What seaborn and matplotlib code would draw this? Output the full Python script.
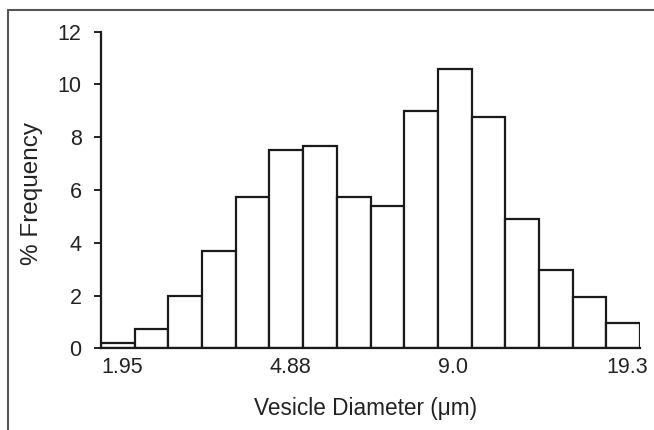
import numpy as np
import pandas as pd
import matplotlib
matplotlib.use("Agg")
import matplotlib.pyplot as plt
from matplotlib.lines import Line2D
import seaborn as sns

# Data: % frequency for each of 16 diameter classes
freq = [0.2, 0.75, 2.0, 3.7, 5.75, 7.5, 7.65, 5.75, 5.4, 9.0, 10.6, 8.75, 4.9, 2.95, 1.95, 0.95]
tick_labels = ["1.95", "4.88", "9.0", "19.3"]
tick_bins = [0, 5, 10, 15]  # class boundaries where labels sit

sns.set_theme(style="white")
plt.rcParams["font.family"] = ["Liberation Sans", "DejaVu Sans"]

n = len(freq)
edges = list(range(n + 1))
df = pd.DataFrame({"cls": np.arange(n) + 0.5, "pct": freq})

fig = plt.figure(figsize=(6.54, 4.30), dpi=100)
ax = fig.add_axes([101 / 654, 1 - 348.3 / 430, 539 / 654, 316.6 / 430])

sns.histplot(data=df, x="cls", weights="pct", bins=edges, stat="count",
             color="white", edgecolor="#1a1a1a", linewidth=1.6, alpha=1,
             ax=ax)

ax.set_xlim(0, n)
ax.set_ylim(0, 12)
ax.set_yticks(np.arange(0, 13, 2))
ax.set_xticks(tick_bins)
ax.set_xticklabels(tick_labels, ha="left")
ax.tick_params(axis="x", length=0, pad=6, labelsize=15.5, colors="#222222")
ax.tick_params(axis="y", length=5, width=1.4, direction="out", pad=9,
               labelsize=15.5, colors="#222222", left=True)

for s in ["top", "right"]:
    ax.spines[s].set_visible(False)
for s in ["left", "bottom"]:
    ax.spines[s].set_color("#1a1a1a")
    ax.spines[s].set_linewidth(1.6)

ax.set_xlabel("Vesicle Diameter (μm)", fontsize=16.3, color="#222222")
ax.set_ylabel("% Frequency", fontsize=17.5, color="#222222")
ax.xaxis.set_label_coords(0.4917, -0.154)
ax.yaxis.set_label_coords(-0.108, 0.49)

# scanned frame (left and top borders)
fig.add_artist(Line2D([8 / 654, 8 / 654], [0, 1 - 10 / 430],
                      transform=fig.transFigure, color="#555555", lw=1.5))
fig.add_artist(Line2D([8 / 654, 1], [1 - 10 / 430, 1 - 10 / 430],
                      transform=fig.transFigure, color="#555555", lw=1.5))

fig.savefig("out.png", dpi=100)
